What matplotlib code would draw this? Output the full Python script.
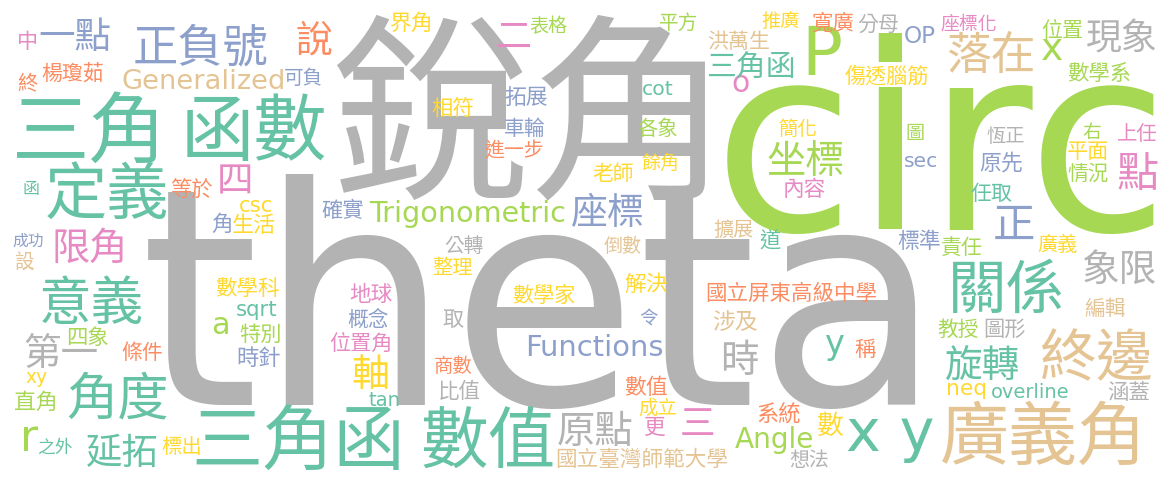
import matplotlib
matplotlib.use("Agg")
import matplotlib.pyplot as plt
from matplotlib.textpath import TextPath
from matplotlib.font_manager import FontProperties

W, H, DPI = 1175, 482, 100

PALETTE = {"teal": "#66c2a5", "orange": "#fc8d62", "blue": "#8da0cb", "pink": "#e78ac3",
           "green": "#a6d854", "yellow": "#ffd92f", "tan": "#e5c494", "gray": "#b3b3b3"}

# ---------------- CJK words: text, colour, ink-centre x, ink-centre y, ink width ----------------
cjk_words = ["銳角", "三角", "函數", "定義", "正負號", "一點", "中", "說", "終", "楊瓊茹",
             "可負", "四", "等於", "函", "確實", "角", "生活", "成功", "限角", "設",
             "意義", "第一", "四象", "條件", "直角", "角度", "之外", "延拓", "標出", "三角函",
             "數值", "數學科", "特別", "時針", "地球", "概念", "位置角", "軸", "界角", "二",
             "表格", "平方", "推廣", "洪萬生", "三角函", "拓展", "相符", "車輪", "各象", "進一步",
             "老師", "餘角", "座標", "擴展", "道", "公轉", "倒數", "寬廣", "分母", "座標化",
             "位置", "現象", "落在", "數學系", "傷透腦筋", "簡化", "坐標", "內容", "圖", "恆正",
             "原先", "任取", "右", "上任", "平面", "情況", "點", "正", "標準", "責任",
             "廣義", "象限", "關係", "國立屏東高級中學", "編輯", "教授", "圖形", "稱", "旋轉", "終邊",
             "涵蓋", "系統", "數", "廣義角", "想法", "整理", "數學家", "解決", "取", "令",
             "涉及", "時", "商數", "比值", "數值", "成立", "更", "原點", "三", "國立臺灣師範大學"]
cjk_colors = ["gray", "teal", "teal", "teal", "blue", "blue", "pink", "orange", "orange", "orange",
              "blue", "pink", "orange", "teal", "blue", "blue", "yellow", "blue", "pink", "tan",
              "teal", "gray", "green", "orange", "green", "teal", "teal", "teal", "yellow", "teal",
              "teal", "yellow", "green", "blue", "pink", "blue", "pink", "yellow", "yellow", "pink",
              "green", "green", "yellow", "tan", "teal", "blue", "yellow", "blue", "green", "orange",
              "yellow", "yellow", "blue", "tan", "teal", "gray", "tan", "orange", "gray", "pink",
              "green", "gray", "tan", "green", "yellow", "yellow", "green", "pink", "green", "gray",
              "blue", "teal", "green", "pink", "yellow", "green", "pink", "blue", "blue", "green",
              "yellow", "gray", "teal", "orange", "tan", "green", "gray", "orange", "teal", "tan",
              "gray", "orange", "yellow", "tan", "gray", "yellow", "yellow", "yellow", "gray", "blue",
              "tan", "gray", "orange", "gray", "orange", "yellow", "pink", "gray", "pink", "tan"]
cjk_x = [521, 87, 256, 107, 201, 75, 27, 314, 27, 72,
         303, 235, 192, 31, 342, 221, 254, 28, 89, 24,
         92, 61, 88, 142, 35, 117, 55, 122, 181, 298,
         488, 247, 260, 259, 371, 368, 360, 370, 410, 514,
         548, 679, 781, 738, 750, 526, 452, 525, 657, 514,
         613, 660, 607, 733, 770, 464, 622, 833, 878, 968,
         1062, 1122, 990, 1099, 886, 798, 805, 805, 915, 1006,
         1001, 992, 1091, 1137, 1088, 1088, 1137, 1014, 919, 962,
         1057, 1119, 1007, 792, 1105, 958, 1005, 865, 982, 1097,
         1128, 779, 830, 1040, 809, 452, 544, 646, 453, 648,
         735, 740, 453, 460, 646, 658, 655, 595, 698, 642]
cjk_y = [107, 127, 127, 190, 44, 34, 40, 38, 82, 72,
         77, 180, 188, 188, 209, 223, 224, 240, 245, 261,
         300, 351, 336, 351, 401, 395, 446, 450, 445, 438,
         438, 287, 333, 356, 293, 319, 342, 372, 22, 35,
         25, 21, 20, 40, 65, 97, 107, 127, 127, 148,
         172, 162, 210, 228, 240, 245, 245, 22, 23, 22,
         29, 36, 52, 72, 75, 128, 158, 188, 132, 135,
         161, 192, 131, 132, 151, 172, 171, 222, 240, 246,
         243, 267, 285, 292, 307, 328, 328, 348, 362, 355,
         391, 413, 424, 433, 458, 266, 294, 283, 319, 317,
         321, 357, 365, 390, 386, 406, 426, 428, 422, 458]
cjk_w = [369, 140, 138, 120, 132, 70, 17, 34, 19, 61,
         37, 30, 41, 14, 41, 18, 42, 30, 68, 18,
         100, 72, 40, 40, 40, 99, 34, 70, 38, 203,
         130, 63, 40, 42, 42, 40, 60, 34, 40, 32,
         37, 37, 37, 61, 85, 42, 41, 40, 39, 58,
         40, 35, 71, 39, 20, 38, 37, 41, 40, 55,
         40, 69, 85, 62, 83, 37, 75, 40, 16, 37,
         42, 41, 17, 39, 40, 40, 39, 38, 42, 40,
         39, 72, 109, 169, 40, 40, 40, 20, 73, 110,
         41, 42, 25, 196, 38, 39, 62, 42, 20, 17,
         44, 34, 37, 40, 42, 37, 20, 74, 31, 170]

# ---------------- Latin words: text, colour, ink-centre x, baseline y, ink width ----------------
lat_words = ["theta", "circ", "Generalized", "Trigonometric", "Functions", "Angle", "overline",
             "neq", "sqrt", "a", "csc", "xy", "tan", "cot", "sec", "OP", "P", "x", "o", "y",
             "x y", "r"]
lat_colors = ["gray", "green", "tan", "green", "blue", "green", "teal",
              "yellow", "teal", "green", "yellow", "yellow", "teal", "teal", "blue", "blue", "green",
              "green", "pink", "teal", "teal", "green"]
lat_x = [532, 941, 203, 467, 595, 774, 1030, 966, 257, 220, 256, 37, 384, 658, 921, 920, 824,
         1052, 741, 834, 890, 31]
lat_y = [405, 230, 89, 222, 356, 448, 398, 395, 316, 334, 212, 383, 406, 95, 167, 43, 75,
         60, 92, 354, 451, 451]
lat_w = [768, 427, 160, 195, 134, 78, 76, 37, 40, 14, 32, 21, 30, 30, 32, 30, 32,
         20, 15, 18, 85, 14]

cjk_fp = FontProperties(family="Noto Sans CJK TC")
lat_fp = FontProperties(family="DejaVu Sans")

fig = plt.figure(figsize=(W / DPI, H / DPI), dpi=DPI, facecolor="white")
ax = fig.add_axes([0, 0, 1, 1])
ax.set_xlim(0, W)
ax.set_ylim(H, 0)
ax.axis("off")


def place(word, color, xc, y, w, fp, centre):
    ext = TextPath((0, 0), word, size=100, prop=fp).get_extents()
    s = w / ext.width
    x0 = xc - (ext.x0 + ext.width / 2) * s
    yb = y + (ext.y0 + ext.height / 2) * s if centre else y
    ax.text(x0, yb, word, fontproperties=fp, fontsize=100 * s * 72 / DPI,
            color=PALETTE[color], ha="left", va="baseline")


for t, c, x, y, w in zip(lat_words, lat_colors, lat_x, lat_y, lat_w):
    place(t, c, x, y, w, lat_fp, False)
for t, c, x, y, w in zip(cjk_words, cjk_colors, cjk_x, cjk_y, cjk_w):
    place(t, c, x, y, w, cjk_fp, True)

fig.savefig("out.png", dpi=DPI, facecolor="white")
